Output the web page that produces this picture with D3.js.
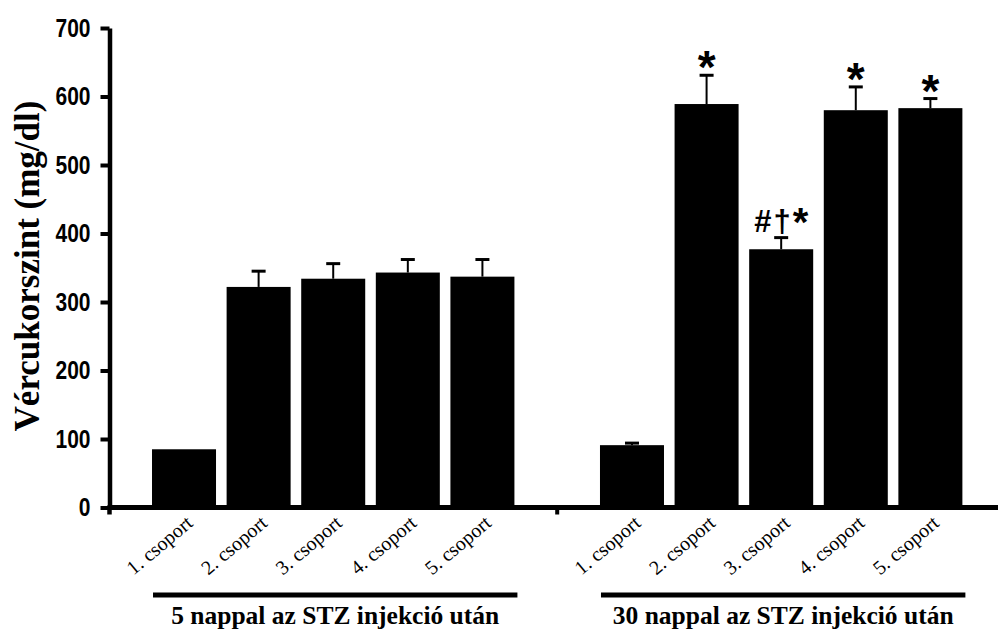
<!DOCTYPE html>
<html><head><meta charset="utf-8">
<script src="https://cdn.jsdelivr.net/npm/d3@7"></script>
<style>body{margin:0;background:#fff}</style>
</head><body>
<svg id="c" width="998" height="637"></svg>
<script>
const periods = ["5 nappal az STZ injekció után", "30 nappal az STZ injekció után"];
const groups = ["1. csoport", "2. csoport", "3. csoport", "4. csoport", "5. csoport"];
const means5 = [85, 322, 334, 343, 337];
const sem5 = [0, 23, 22, 19, 25];
const marks5 = ["", "", "", "", ""];
const means30 = [91, 589, 377, 580, 583];
const sem30 = [3, 42, 17, 34, 14];
const marks30 = ["", "*", "#†*", "*", "*"];
const yTicks = [0, 100, 200, 300, 400, 500, 600, 700];
const yLabel = "Vércukorszint (mg/dl)";

const svg = d3.select("#c");
const rows = [];
[[means5, sem5, marks5], [means30, sem30, marks30]].forEach(([m, s, k], pi) => {
  groups.forEach((g, gi) => rows.push({period: periods[pi], group: g, mean: m[gi], sem: s[gi], mark: k[gi]}));
});

const y = d3.scaleLinear().domain([0, 700]).range([507.5, 28]);
const outer = d3.scaleBand().domain(periods).range([116.4, 998]).paddingInner(0.191).paddingOuter(0.0795);
const inner = d3.scaleBand().domain(groups).range([0, outer.bandwidth()]).paddingInner(0.142).paddingOuter(0);
const cx = d => outer(d.period) + inner(d.group) + inner.bandwidth() / 2;
const axisX = 109.5;

// bars
svg.append("g").selectAll("rect").data(rows).join("rect")
  .attr("x", d => outer(d.period) + inner(d.group))
  .attr("width", inner.bandwidth())
  .attr("y", d => y(d.mean))
  .attr("height", d => y(0) - y(d.mean))
  .attr("fill", "#000");

// error bars
const eb = svg.append("g").selectAll("g").data(rows.filter(d => d.sem > 0)).join("g");
eb.append("line").attr("x1", cx).attr("x2", cx)
  .attr("y1", d => y(d.mean)).attr("y2", d => y(d.mean + d.sem))
  .attr("stroke", "#000").attr("stroke-width", 2);
eb.append("line").attr("x1", d => cx(d) - 7).attr("x2", d => cx(d) + 7)
  .attr("y1", d => y(d.mean + d.sem)).attr("y2", d => y(d.mean + d.sem))
  .attr("stroke", "#000").attr("stroke-width", 3);

// significance marks
const mk = svg.append("g").selectAll("text").data(rows.filter(d => d.mark)).join("text")
  .attr("x", cx)
  .attr("y", d => y(d.mean + d.sem) - (d.mark.length > 1 ? 6 : -8))
  .attr("text-anchor", "middle")
  .attr("font-family", "'Liberation Sans', Arial, sans-serif")
  .attr("font-weight", "bold");
mk.each(function(d) {
  const t = d3.select(this);
  Array.from(d.mark).forEach((ch, i) => {
    t.append("tspan").text(ch)
      .attr("dx", i ? 2 : 0)
      .attr("dy", ch === "*" && d.mark.length > 1 ? 4 : 0)
      .attr("font-size", ch === "*" ? (d.mark.length > 1 ? 40 : 46) : 31);
  });
});

// y axis
const ya = svg.append("g").attr("transform", `translate(${axisX},0)`)
  .call(d3.axisLeft(y).tickValues(yTicks).tickSize(9).tickSizeOuter(0).tickPadding(10));
ya.select(".domain").attr("stroke-width", 4.5).attr("stroke", "#000");
ya.selectAll(".tick line").attr("stroke-width", 4).attr("stroke", "#000");
ya.selectAll(".tick text")
  .attr("font-family", "'Liberation Sans', Arial, sans-serif")
  .attr("font-weight", "bold").attr("font-size", 25).attr("fill", "#000")
  .attr("transform", "scale(0.84,1)")
  .attr("x", -19 / 0.84);
svg.append("line").attr("x1", axisX).attr("x2", axisX).attr("y1", y(0)).attr("y2", y(0) + 7)
  .attr("stroke", "#000").attr("stroke-width", 4.5);

// x axis line
svg.append("line").attr("x1", axisX - 2).attr("x2", 998).attr("y1", y(0)).attr("y2", y(0))
  .attr("stroke", "#000").attr("stroke-width", 5);
const midX = (outer(periods[0]) + outer.bandwidth() + outer(periods[1])) / 2;
svg.append("line").attr("x1", midX).attr("x2", midX).attr("y1", y(0)).attr("y2", y(0) + 7)
  .attr("stroke", "#000").attr("stroke-width", 4);

// x tick labels
svg.append("g").selectAll("text").data(rows).join("text")
  .attr("transform", d => `translate(${cx(d) + 10},525) rotate(-40)`)
  .attr("text-anchor", "end")
  .attr("font-family", "'Liberation Serif', 'Times New Roman', serif")
  .attr("font-size", 20).attr("fill", "#000")
  .text(d => d.group);

// period underline and labels
const pg = svg.append("g").selectAll("g").data(periods).join("g");
pg.append("line").attr("x1", p => outer(p) + 1).attr("x2", p => outer(p) + outer.bandwidth() + 3)
  .attr("y1", 595).attr("y2", 595).attr("stroke", "#000").attr("stroke-width", 5);
pg.append("text").attr("x", p => outer(p) + outer.bandwidth() / 2 + 2).attr("y", 624)
  .attr("text-anchor", "middle")
  .attr("font-family", "'Liberation Serif', 'Times New Roman', serif")
  .attr("font-weight", "bold").attr("font-size", 25.5).attr("fill", "#000")
  .text(p => p);

// y label
svg.append("text").attr("transform", "translate(39,266) rotate(-90)")
  .attr("text-anchor", "middle")
  .attr("font-family", "'Liberation Serif', 'Times New Roman', serif")
  .attr("font-weight", "bold").attr("font-size", 35).attr("fill", "#000")
  .text(yLabel);
</script>
</body></html>
